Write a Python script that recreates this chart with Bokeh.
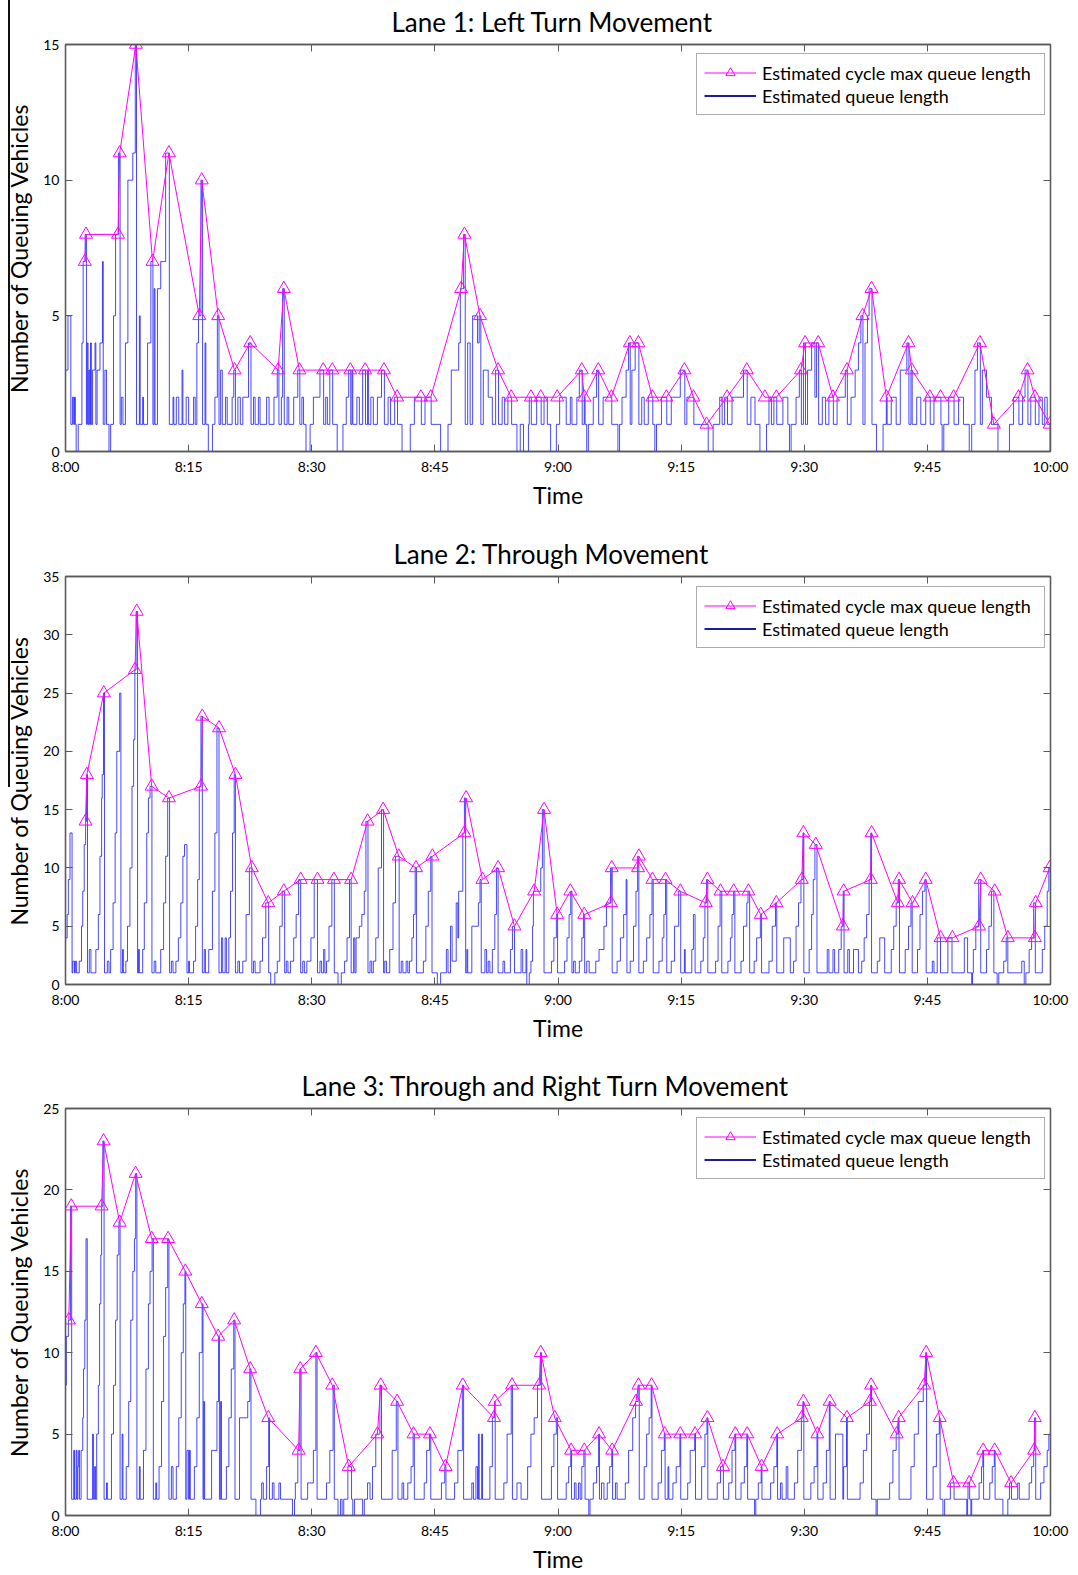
from bokeh.plotting import figure
from bokeh.layouts import column
from bokeh.models import (FixedTicker, Legend, LegendItem, LinearAxis, Range1d, ColumnDataSource,
                          CDSView, IndexFilter, InlineStyleSheet)
from bokeh.embed import file_html
from bokeh.resources import INLINE

# ---------------- data ----------------
TIME_TICKS = [0, 15, 30, 45, 60, 75, 90, 105, 120]          # minutes after 8:00
TIME_LABELS = ["8:00", "8:15", "8:30", "8:45", "9:00", "9:15", "9:30", "9:45", "10:00"]

TITLES = ["Lane 1: Left Turn Movement",
          "Lane 2: Through Movement",
          "Lane 3: Through and Right Turn Movement"]
Y_MAX = [15, 35, 25]

# Estimated cycle max queue length (minute, vehicles)
lane1_cycle_max = [(2.35, 7), (2.5, 8), (6.4, 8), (6.6, 11), (8.57, 15), (10.6, 7), (12.6, 11), (16.3, 5),
                   (16.6, 10), (18.6, 5), (20.6, 3), (22.5, 4), (25.9, 3), (26.6, 6), (28.5, 3), (31.4, 3),
                   (32.5, 3), (34.7, 3), (36.5, 3), (38.8, 3), (40.4, 2), (43.3, 2), (44.5, 2), (48.2, 6),
                   (48.6, 8), (50.5, 5), (52.7, 3), (54.3, 2), (56.7, 2), (57.9, 2), (59.9, 2), (62.9, 3),
                   (63.2, 2), (64.9, 3), (66.5, 2), (68.75, 4), (69.8, 4), (71.5, 2), (73.2, 2), (75.4, 3),
                   (76.5, 2), (78.1, 1), (80.6, 2), (83.0, 3), (85.2, 2), (86.6, 2), (89.6, 3), (90.1, 4),
                   (91.7, 4), (93.5, 2), (95.2, 3), (97.1, 5), (98.2, 6), (100.0, 2), (102.7, 4), (103.1, 3),
                   (105.3, 2), (106.6, 2), (108.2, 2), (111.4, 4), (113.1, 1), (116.1, 2), (117.2, 3),
                   (118.1, 2), (119.9, 1)]

lane2_cycle_max = [(2.44, 14), (2.6, 18), (4.67, 25), (8.46, 27), (8.68, 32), (10.5, 17), (12.6, 16), (16.5, 17),
                   (16.66, 23), (18.7, 22), (20.7, 18), (22.7, 10), (24.7, 7), (26.6, 8), (28.65, 9), (30.7, 9),
                   (32.7, 9), (34.8, 9), (36.8, 14), (38.7, 15), (40.6, 11), (42.7, 10), (44.7, 11), (48.6, 13),
                   (48.8, 16), (50.8, 9), (52.7, 10), (54.7, 5), (57.1, 8), (58.3, 15), (59.9, 6), (61.5, 8),
                   (63.2, 6), (66.45, 7), (66.55, 10), (69.75, 10), (69.85, 11), (71.5, 9), (73.1, 9), (74.9, 8),
                   (78.0, 7), (78.2, 9), (79.8, 8), (81.4, 8), (83.2, 8), (84.7, 6), (86.6, 7), (89.7, 9),
                   (89.9, 13), (91.4, 12), (94.7, 5), (94.8, 8), (98.1, 9), (98.2, 13), (101.4, 7), (101.55, 9),
                   (103.2, 7), (104.8, 9), (106.6, 4), (108.05, 4), (111.3, 5), (111.5, 9), (113.2, 8),
                   (114.8, 4), (118.1, 4), (118.2, 7), (119.9, 10)]

lane3_cycle_max = [(0.4, 12), (0.7, 19), (4.4, 19), (4.64, 23), (6.6, 18), (8.54, 21), (10.5, 17), (12.5, 17),
                   (14.6, 15), (16.6, 13), (18.6, 11), (20.55, 12), (22.5, 9), (24.7, 6), (28.4, 4), (28.6, 9),
                   (30.5, 10), (32.5, 8), (34.5, 3), (38.0, 5), (38.4, 8), (40.4, 7), (42.4, 5), (44.4, 5),
                   (46.3, 3), (48.4, 8), (52.2, 6), (52.3, 7), (54.4, 8), (57.7, 8), (57.9, 10), (59.6, 6),
                   (61.6, 4), (63.2, 4), (65.0, 5), (66.6, 4), (69.5, 7), (69.8, 8), (71.4, 8), (73.0, 5),
                   (74.9, 5), (76.7, 5), (78.2, 6), (80.1, 3), (81.6, 5), (83.05, 5), (84.8, 3), (86.7, 5),
                   (89.7, 6), (89.9, 7), (91.6, 5), (93.1, 7), (95.2, 6), (98.0, 7), (98.15, 8), (101.25, 5),
                   (101.5, 6), (104.6, 8), (104.85, 10), (106.5, 6), (108.2, 2), (110.1, 2), (111.8, 4),
                   (113.2, 4), (115.2, 2), (118.0, 4), (118.1, 6)]

# Estimated queue length: step change points (minute, vehicles)
lane1_queue = [(0, 3), (0.3, 5), (0.65, 1), (0.85, 2), (1.0, 1), (1.1, 2), (1.2, 1), (1.3, 0), (1.55, 1), (2.0, 4),
               (2.15, 7), (2.4, 8), (2.55, 1), (2.65, 4), (2.75, 1), (2.85, 3), (2.95, 1), (3.05, 4), (3.15, 1),
               (3.3, 3), (3.6, 4), (3.7, 1), (3.85, 3), (4.2, 4), (4.5, 7), (4.6, 1), (4.8, 3), (5.0, 1), (5.3, 0),
               (5.5, 1), (5.85, 5), (6.1, 8), (6.45, 11), (6.65, 1), (6.8, 2), (7.0, 1), (7.3, 4), (7.6, 10),
               (8.2, 11), (8.5, 15), (8.65, 1), (9.0, 5), (9.1, 1), (9.4, 2), (9.5, 1), (10.0, 4), (10.4, 7),
               (10.65, 1), (10.8, 6), (10.9, 1), (11.2, 6), (11.6, 7), (12.2, 11), (12.65, 1), (13.1, 2),
               (13.2, 1), (13.5, 2), (13.8, 1), (14.2, 3), (14.3, 1), (14.7, 2), (15.0, 1), (15.6, 2), (15.8, 1),
               (16.0, 4), (16.2, 5), (16.5, 10), (16.7, 1), (17.0, 4), (17.1, 1), (17.4, 0), (17.9, 1), (18.2, 2),
               (18.5, 5), (18.7, 1), (18.9, 3), (19.1, 1), (19.5, 2), (19.7, 1), (20.3, 2), (20.5, 3), (20.7, 1),
               (21.0, 2), (21.3, 1), (21.6, 2), (22.3, 4), (22.6, 1), (22.9, 2), (23.1, 1), (23.5, 2),
               (23.7, 1), (24.5, 2), (24.8, 1), (25.4, 2), (25.8, 3), (26.0, 1), (26.3, 2), (26.45, 6), (26.65, 1),
               (27.0, 2), (27.2, 1), (27.8, 2), (28.3, 3), (28.55, 1), (28.8, 2), (29.0, 1), (29.3, 0), (29.8, 1),
               (30.2, 2), (31.0, 3), (31.45, 1), (31.7, 2), (31.9, 1), (32.2, 3), (32.55, 1), (33.1, 0),
               (33.8, 1), (34.2, 2), (34.5, 3), (34.75, 1), (34.9, 3), (35.0, 1), (35.5, 2), (35.8, 1), (36.2, 3),
               (36.55, 1), (36.8, 3), (36.9, 1), (37.2, 2), (37.5, 1), (38.0, 2), (38.5, 3), (38.85, 1), (39.3, 2),
               (39.6, 1), (40.1, 2), (40.45, 1), (41.0, 0), (42.0, 1), (42.5, 2), (43.35, 1), (43.8, 2), (44.55, 1),
               (45.7, 0), (46.6, 1), (47.0, 3), (47.9, 4), (48.1, 6), (48.5, 8), (48.7, 1), (49.0, 4),
               (49.3, 1), (49.6, 5), (50.2, 4), (50.4, 5), (50.6, 1), (50.9, 3), (51.5, 2), (52.0, 1), (52.4, 3),
               (52.75, 1), (53.2, 2), (53.5, 1), (53.9, 2), (54.35, 1), (55.0, 0), (55.4, 1), (55.8, 0), (56.4, 1),
               (56.5, 2), (56.75, 1), (57.4, 2), (57.95, 1), (58.3, 2), (58.7, 1), (59.1, 0), (59.8, 1), (60.2, 2),
               (61.0, 1), (61.5, 2), (61.7, 1), (62.3, 2), (62.6, 3), (62.95, 1), (63.2, 2), (63.3, 1), (63.5, 0),
               (63.7, 1), (64.3, 2), (64.7, 3), (64.95, 1), (65.5, 2), (66.55, 1), (67.3, 0), (67.5, 1),
               (67.8, 2), (68.3, 3), (68.6, 4), (68.8, 1), (69.0, 3), (69.4, 4), (69.85, 1), (70.2, 2), (70.5, 1),
               (71.0, 2), (71.55, 1), (71.8, 0), (72.0, 1), (72.6, 2), (73.25, 1), (73.8, 2), (74.9, 3),
               (75.45, 1), (75.7, 2), (76.55, 1), (78.3, 0), (78.9, 1), (79.7, 2), (80.0, 1), (80.3, 2),
               (80.65, 1), (81.2, 2), (82.6, 3), (83.05, 1), (83.5, 2), (84.0, 1), (84.6, 0), (85.4, 1),
               (85.7, 2), (86.0, 1), (86.3, 2), (86.65, 1), (87.4, 2), (88.0, 1), (88.2, 0), (88.4, 1), (89.0, 2),
               (89.4, 3), (89.65, 1), (89.9, 4), (90.15, 1), (90.4, 3), (90.9, 4), (91.3, 2), (91.5, 4), (91.75, 1),
               (92.2, 2), (92.6, 1), (93.0, 2), (93.55, 1), (94.0, 2), (95.0, 3), (95.25, 1), (95.7, 2),
               (96.2, 3), (96.6, 4), (96.9, 5), (97.15, 1), (97.4, 4), (97.7, 5), (97.9, 6), (98.25, 1), (98.8, 0),
               (99.6, 1), (100.0, 2), (100.1, 1), (100.6, 2), (101.2, 1), (101.7, 3), (102.5, 4),
               (102.75, 1), (103.0, 3), (103.15, 1), (103.7, 2), (104.2, 1), (104.8, 2), (105.35, 1), (105.8, 2),
               (106.65, 1), (106.8, 0), (107.0, 1), (107.6, 2), (108.25, 1), (108.8, 2), (109.4, 1),
               (110.1, 0), (110.4, 1), (110.8, 3), (111.1, 4), (111.45, 1), (111.7, 3), (112.2, 2), (112.8, 1),
               (113.6, 0), (115.0, 1), (115.5, 2), (116.15, 1), (116.6, 2), (116.9, 3), (117.25, 1), (117.6, 2),
               (118.15, 1), (118.6, 2), (119.0, 1), (119.3, 2), (119.6, 1), (119.95, 0), (120.0, 0)]

lane2_queue = [(0.0, 4), (0.2, 6), (0.35, 9), (0.55, 13), (0.8, 1), (0.9, 2), (1.1, 1), (1.2, 2), (1.35, 1),
               (1.67, 2), (1.95, 5), (2.1, 8), (2.28, 12), (2.45, 14), (2.56, 18), (2.68, 1), (2.9, 3), (3.1, 1),
               (3.7, 3), (4.0, 6), (4.2, 11), (4.4, 16), (4.47, 18), (4.63, 25), (4.75, 1), (5.1, 2), (5.3, 1),
               (5.5, 3), (5.8, 7), (6.05, 13), (6.25, 20), (6.6, 25), (6.75, 1), (6.95, 3), (7.05, 1),
               (7.35, 2), (7.55, 5), (7.85, 10), (8.1, 17), (8.3, 21), (8.45, 27), (8.6, 32), (8.78, 1), (8.9, 3),
               (9.0, 1), (9.4, 3), (9.6, 7), (9.9, 13), (10.1, 16), (10.3, 17), (10.53, 1), (10.8, 2), (11.0, 1),
               (11.6, 3), (11.95, 7), (12.2, 11), (12.45, 16), (12.68, 1), (12.9, 2), (13.1, 1),
               (13.45, 2), (13.75, 4), (14.05, 7), (14.3, 11), (14.5, 12), (14.8, 1), (15.0, 2), (15.1, 1),
               (15.6, 2), (15.85, 5), (16.1, 9), (16.3, 17), (16.5, 23), (16.67, 1), (16.9, 3), (17.05, 1),
               (17.45, 3), (17.9, 8), (18.2, 13), (18.45, 22), (18.7, 1), (19.0, 4), (19.15, 1), (19.45, 4),
               (19.6, 1), (19.9, 4), (20.1, 8), (20.35, 13), (20.55, 18), (20.7, 1), (21.0, 2), (21.2, 1),
               (21.6, 2), (22.0, 6), (22.4, 10), (22.7, 1), (22.9, 2), (23.1, 1),
               (23.7, 2), (24.0, 4), (24.4, 7), (24.75, 1), (25.0, 0), (25.5, 1),
               (25.8, 2), (26.1, 5), (26.4, 8), (26.7, 1), (26.9, 2), (27.1, 1),
               (27.4, 2), (27.8, 4), (28.1, 6), (28.4, 9), (28.65, 1), (28.9, 2), (29.1, 1),
               (29.4, 2), (29.9, 4), (30.3, 9), (30.7, 1), (31.0, 2), (31.2, 1), (31.45, 3), (31.6, 1),
               (31.8, 2), (32.1, 5), (32.45, 9), (32.75, 1), (33.2, 0), (33.6, 1),
               (34.0, 2), (34.3, 4), (34.6, 9), (34.8, 1), (35.1, 4), (35.25, 1),
               (35.4, 4), (35.8, 5), (36.1, 6), (36.4, 8), (36.6, 14), (36.85, 1), (37.1, 2), (37.3, 1),
               (37.5, 2), (37.8, 4), (38.1, 10), (38.5, 15), (38.75, 1), (38.9, 2), (39.1, 1),
               (39.5, 3), (39.9, 7), (40.2, 11), (40.65, 1), (40.9, 2), (41.1, 1), (41.5, 2), (41.7, 1),
               (41.9, 2), (42.2, 4), (42.4, 6), (42.6, 10), (42.75, 1),
               (43.6, 2), (43.9, 5), (44.2, 8), (44.5, 11), (44.65, 1), (45.3, 0), (45.7, 1),
               (46.4, 3), (46.6, 1), (46.9, 5), (47.1, 2), (47.6, 7), (47.8, 4), (47.9, 8), (48.4, 13),
               (48.6, 16), (48.75, 1), (48.9, 3), (49.0, 1), (49.5, 5), (50.3, 7), (50.5, 9), (50.65, 1),
               (51.1, 3), (51.3, 1), (51.5, 2), (51.7, 1), (52.0, 3), (52.3, 6), (52.5, 10), (52.7, 1),
               (53.3, 2), (53.5, 1), (54.2, 3), (54.45, 5), (54.7, 1), (55.5, 3), (55.7, 1), (56.1, 3), (56.2, 0),
               (56.5, 1), (56.7, 2), (56.9, 5), (57.0, 8), (57.9, 10), (58.1, 15), (58.3, 1),
               (59.2, 2), (59.5, 4), (59.8, 6), (59.95, 1),
               (60.8, 2), (61.1, 4), (61.35, 6), (61.55, 8), (61.7, 1), (61.9, 2), (62.1, 1),
               (62.6, 2), (62.9, 4), (63.1, 6), (63.25, 1), (63.5, 2), (63.8, 1),
               (64.6, 2), (65.0, 3), (65.6, 5), (65.9, 7), (66.4, 10), (66.6, 1),
               (67.2, 2), (67.6, 4), (68.0, 6), (68.3, 9), (68.4, 1),
               (68.8, 2), (69.2, 5), (69.5, 8), (69.7, 11), (69.85, 1),
               (70.4, 2), (70.8, 4), (71.2, 6), (71.45, 9), (71.6, 1),
               (72.3, 2), (72.7, 4), (72.9, 6), (73.1, 9), (73.25, 1),
               (73.8, 2), (74.2, 5), (74.7, 8), (74.95, 1), (75.4, 3), (75.5, 1),
               (76.3, 3), (76.5, 6), (76.7, 1),
               (77.4, 2), (77.7, 4), (77.9, 7), (78.1, 9), (78.25, 1),
               (79.2, 2), (79.5, 5), (79.75, 8), (79.95, 1),
               (80.7, 2), (81.0, 4), (81.2, 6), (81.4, 8), (81.55, 1),
               (82.3, 2), (82.6, 5), (83.0, 7), (83.15, 8), (83.35, 1),
               (83.9, 2), (84.2, 4), (84.65, 6), (84.8, 1),
               (85.7, 2), (86.1, 5), (86.5, 7), (86.65, 1), (87.5, 4), (88.3, 1),
               (88.7, 2), (89.0, 5), (89.3, 7), (89.6, 9), (89.85, 13), (89.95, 1),
               (90.6, 3), (90.9, 6), (91.1, 9), (91.3, 12), (91.55, 1),
               (92.8, 3), (93.0, 1), (93.5, 3), (93.7, 1),
               (94.2, 3), (94.5, 5), (94.75, 8), (94.85, 1), (95.3, 3), (95.5, 1), (96.0, 3), (96.6, 1),
               (97.0, 2), (97.3, 4), (97.6, 6), (97.9, 9), (98.1, 13), (98.2, 1),
               (98.9, 2), (99.2, 4), (99.8, 1),
               (100.6, 3), (100.9, 5), (101.2, 7), (101.45, 9), (101.6, 1),
               (102.3, 3), (102.7, 5), (103.0, 7), (103.15, 1),
               (103.8, 3), (104.1, 6), (104.4, 8), (104.7, 9), (104.85, 1),
               (105.6, 2), (105.8, 1), (106.2, 4), (106.6, 1),
               (107.5, 4), (108.0, 1), (109.5, 4), (109.9, 1), (110.4, 0), (110.5, 1),
               (110.6, 3), (110.9, 5), (111.25, 9), (111.5, 1),
               (112.2, 3), (112.5, 5), (112.8, 8), (113.1, 1), (113.5, 0), (113.7, 1),
               (114.3, 2), (114.6, 4), (114.8, 1), (116.5, 2), (116.8, 0), (117.0, 1),
               (117.4, 3), (117.7, 4), (117.95, 7), (118.15, 1),
               (119.0, 3), (119.3, 5), (119.6, 8), (119.8, 10), (120.0, 10)]

lane3_queue = [(0.0, 8), (0.1, 11), (0.35, 12), (0.6, 19), (0.75, 1), (1.0, 4), (1.1, 1), (1.3, 4), (1.4, 1),
               (1.5, 3), (1.6, 4), (1.7, 1), (1.9, 4), (2.1, 6), (2.2, 9), (2.35, 12), (2.5, 17), (2.65, 1),
               (3.3, 5), (3.4, 1), (3.55, 3), (3.65, 1), (3.8, 5), (4.0, 8), (4.15, 13), (4.3, 16), (4.4, 19),
               (4.55, 23), (4.7, 1), (5.0, 2), (5.1, 1), (5.6, 5), (5.85, 8), (6.1, 12), (6.3, 16), (6.5, 18),
               (6.65, 1), (6.9, 5), (7.0, 1), (7.4, 3), (7.7, 7), (7.95, 12), (8.2, 15), (8.4, 17), (8.55, 21),
               (8.7, 1), (9.0, 3), (9.1, 1), (9.5, 4), (9.8, 9), (10.1, 13), (10.3, 15), (10.55, 17), (10.7, 1),
               (11.0, 2), (11.1, 1), (11.4, 3), (11.7, 7), (11.95, 11), (12.2, 14), (12.45, 17), (12.6, 1),
               (12.9, 3), (13.1, 1), (13.5, 3), (13.8, 6), (14.1, 10), (14.35, 13), (14.55, 15), (14.65, 1),
               (14.8, 4), (15.0, 1), (15.1, 4), (15.2, 1), (15.7, 3), (16.0, 6), (16.3, 10), (16.65, 13),
               (16.75, 1), (16.85, 7), (16.95, 1), (17.8, 4), (18.45, 7), (18.65, 11), (18.75, 1), (18.9, 7),
               (19.0, 1), (19.6, 3), (19.9, 6), (20.2, 9), (20.5, 12), (20.65, 1), (21.2, 6), (22.2, 7),
               (22.45, 9), (22.6, 1), (23.2, 0), (23.75, 1), (23.9, 2), (24.1, 1), (24.5, 3), (24.75, 6),
               (24.85, 1), (25.2, 2), (25.4, 1), (26.0, 2), (26.2, 1), (27.65, 0), (27.9, 1), (28.0, 2),
               (28.3, 4), (28.55, 9), (28.7, 1), (29.5, 2), (30.2, 4), (30.5, 10), (30.65, 1), (31.8, 2),
               (32.2, 4), (32.6, 8), (32.75, 1), (33.2, 0), (33.5, 1), (33.7, 0), (33.9, 1), (34.4, 3),
               (34.85, 1), (35.0, 0), (35.2, 1), (36.2, 0), (36.4, 1), (36.8, 2), (37.1, 1), (37.4, 3),
               (37.8, 5), (38.3, 8), (38.5, 1), (39.8, 4), (40.3, 7), (40.5, 1), (41.0, 2), (41.2, 1),
               (41.7, 2), (42.1, 3), (42.35, 5), (42.5, 1), (43.7, 2), (44.0, 4), (44.35, 5), (44.5, 1),
               (45.8, 2), (46.2, 3), (46.35, 1), (47.4, 2), (47.8, 4), (48.35, 8), (48.5, 1),
               (49.5, 2), (49.7, 1), (50.0, 3), (50.2, 1), (50.3, 5), (50.4, 1), (50.7, 5), (50.8, 1),
               (51.7, 3), (52.0, 6), (52.25, 7), (52.35, 1), (53.4, 2), (53.8, 5), (54.3, 8), (54.45, 1),
               (55.0, 2), (55.5, 1), (56.3, 3), (56.7, 5), (57.1, 6), (57.5, 8), (57.85, 10), (58.0, 1),
               (59.2, 3), (59.5, 5), (59.8, 6), (59.95, 1), (61.0, 2), (61.3, 3), (61.55, 4), (61.65, 1),
               (62.0, 2), (62.2, 1), (62.5, 2), (62.7, 1), (62.9, 3), (63.15, 4), (63.3, 1), (63.75, 0),
               (63.9, 1), (64.3, 2), (64.7, 3), (64.95, 5), (65.05, 1), (65.3, 2), (65.6, 1), (66.0, 2),
               (66.3, 3), (66.55, 4), (66.65, 1), (67.0, 2), (67.2, 1), (68.2, 2), (68.6, 4), (69.1, 6),
               (69.45, 7), (69.75, 8), (69.9, 1), (70.5, 3), (70.8, 5), (71.1, 6), (71.35, 8), (71.45, 1),
               (72.2, 2), (72.6, 4), (72.95, 5), (73.05, 1), (73.4, 3), (73.5, 1), (74.0, 2), (74.4, 3),
               (74.85, 5), (74.95, 1), (75.8, 2), (76.1, 4), (76.65, 5), (76.75, 1), (77.5, 3), (77.9, 5),
               (78.15, 6), (78.25, 1), (79.4, 2), (79.8, 3), (80.15, 1), (80.8, 2), (81.2, 4), (81.55, 5),
               (81.65, 1), (82.3, 2), (82.7, 3), (83.0, 5), (83.1, 1), (83.95, 0), (84.1, 1), (84.4, 2),
               (84.75, 3), (84.85, 1), (85.9, 2), (86.3, 3), (86.65, 5), (86.75, 1), (87.1, 2), (87.3, 1),
               (87.8, 3), (88.0, 1), (88.8, 2), (89.2, 4), (89.65, 6), (89.85, 7), (89.95, 1), (90.8, 2),
               (91.2, 3), (91.55, 5), (91.65, 1), (92.3, 2), (92.7, 4), (93.05, 7), (93.15, 1), (93.8, 5),
               (94.7, 1), (94.8, 3), (95.15, 6), (95.25, 1), (96.8, 2), (97.2, 4), (97.6, 5), (97.95, 7),
               (98.1, 8), (98.2, 1), (98.75, 0), (98.9, 1), (100.4, 2), (100.8, 4), (101.2, 5), (101.45, 6),
               (101.55, 1), (103.0, 3), (103.4, 5), (103.9, 7), (104.5, 8), (104.8, 10), (104.9, 1),
               (105.7, 3), (106.1, 5), (106.45, 6), (106.55, 1), (106.9, 0), (107.1, 1), (107.8, 2),
               (108.25, 1), (109.8, 0), (109.9, 1), (109.95, 2), (110.15, 1), (110.3, 0), (110.4, 1),
               (111.3, 2), (111.6, 3), (111.75, 4), (111.85, 1), (112.6, 2), (112.9, 3), (113.15, 4),
               (113.25, 1), (114.2, 0), (114.8, 1), (115.0, 2), (115.25, 1), (116.0, 2), (116.2, 1),
               (117.4, 2), (117.7, 3), (117.95, 4), (118.05, 6), (118.2, 1), (118.8, 2), (119.2, 3),
               (119.6, 4), (119.8, 5), (120.0, 5)]

CYCLE_MAX = [lane1_cycle_max, lane2_cycle_max, lane3_cycle_max]
QUEUE = [lane1_queue, lane2_queue, lane3_queue]

# ---------------- styling ----------------
FONT = "Lato"
MAGENTA = "#FF00FF"
BLUE = "#0000ff"
LEGEND_BLUE = "#1c1c9c"
FRAME = "#5a5a5a"
HEIGHTS = [532, 532, 511]
BORDER_TOP = [43, 44, 44]
BORDER_BOTTOM = [81, 80, 59]
TITLE_OFFSET = [326, 328, 236]     # left edge of each title, measured from the frame's left side
EDGE_LINE_HEIGHT = [532, 255, 0]   # thin black rule along the left page edge


def style_axis(ax, ticks, overrides=None, labels=True):
    ax.ticker = FixedTicker(ticks=ticks)
    ax.major_tick_in = 7
    ax.major_tick_out = 0
    ax.minor_tick_line_color = None
    ax.axis_line_color = FRAME
    ax.axis_line_width = 1.3
    ax.major_tick_line_color = FRAME
    ax.major_label_text_font = FONT
    ax.major_label_text_font_size = "14px" if labels else "0px"
    ax.major_label_text_color = "black"
    ax.major_label_standoff = 6
    if overrides:
        ax.major_label_overrides = overrides


def make_panel(i):
    ymax = Y_MAX[i]
    sheets = []
    if EDGE_LINE_HEIGHT[i] > 0:
        sheets.append(InlineStyleSheet(css=(
            ":host { position: relative; }"
            ":host::after { content: ''; position: absolute; left: 8px; top: 0px; width: 1.5px; "
            "height: %dpx; background: #111; pointer-events: none; }" % EDGE_LINE_HEIGHT[i])))
    p = figure(width=1078, height=HEIGHTS[i], x_range=Range1d(0, 120), y_range=Range1d(0, ymax),
               output_backend="svg", toolbar_location=None,
               min_border_left=65, min_border_right=28,
               min_border_top=BORDER_TOP[i], min_border_bottom=BORDER_BOTTOM[i],
               x_axis_label="Time", y_axis_label="Number of Queuing Vehicles",
               stylesheets=sheets)
    p.background_fill_color = "white"
    p.border_fill_color = "white"
    p.outline_line_color = FRAME
    p.outline_line_width = 1.3
    p.grid.visible = False

    p.title.text = TITLES[i]
    p.title.text_font = FONT
    p.title.text_font_size = "26px"
    p.title.text_font_style = "normal"
    p.title.align = "left"
    p.title.offset = TITLE_OFFSET[i]
    p.title.vertical_align = "top"
    p.title.text_color = "black"

    yt = list(range(0, ymax + 1, 5))
    xover = {t: l for t, l in zip(TIME_TICKS, TIME_LABELS)}
    style_axis(p.xaxis[0], TIME_TICKS, xover)
    style_axis(p.yaxis[0], yt)
    for ax in (p.xaxis[0], p.yaxis[0]):
        ax.axis_label_text_font = FONT
        ax.axis_label_text_font_style = "normal"
        ax.axis_label_text_color = "black"
    p.xaxis[0].axis_label_text_font_size = "23px"
    p.yaxis[0].axis_label_text_font_size = "23px"
    p.xaxis[0].axis_label_standoff = 3
    p.yaxis[0].axis_label_standoff = 7

    top = LinearAxis()
    style_axis(top, TIME_TICKS, labels=False)
    p.add_layout(top, "above")
    right = LinearAxis()
    style_axis(right, yt, labels=False)
    p.add_layout(right, "right")

    src = ColumnDataSource(dict(t=[a for a, b in QUEUE[i]], q=[b for a, b in QUEUE[i]]))
    p.step("t", "q", source=src, mode="after", line_color=BLUE, line_width=1, line_alpha=0.72)
    # legend-only swatch: a single-point view of the same data draws nothing in the plot
    lb = p.line("t", "q", source=src, view=CDSView(filter=IndexFilter(indices=[0])),
                line_color=LEGEND_BLUE, line_width=2)

    mt = [a for a, b in CYCLE_MAX[i]]
    mv = [b for a, b in CYCLE_MAX[i]]
    lm = p.line(mt, mv, line_color=MAGENTA, line_width=1)
    sm = p.scatter(mt, mv, marker="triangle", size=13, fill_color=None, line_color=MAGENTA, line_width=1)

    legend = Legend(items=[LegendItem(label="Estimated cycle max queue length", renderers=[lm, sm]),
                           LegendItem(label="Estimated queue length", renderers=[lb])],
                    location=(631, 336))
    legend.label_text_font = FONT
    legend.label_text_font_size = "18px"
    legend.label_text_color = "black"
    legend.border_line_color = FRAME
    legend.border_line_width = 1.3
    legend.background_fill_color = "white"
    legend.background_fill_alpha = 1
    legend.glyph_width = 52
    legend.glyph_height = 23
    legend.label_height = 23
    legend.label_width = 275
    legend.spacing = 0
    legend.padding = 7
    legend.margin = 0
    legend.label_standoff = 6
    p.add_layout(legend)
    return p


panels = [make_panel(i) for i in range(3)]
layout = column(*panels, spacing=0)

open("out.html", "w").write(file_html(layout, INLINE))
